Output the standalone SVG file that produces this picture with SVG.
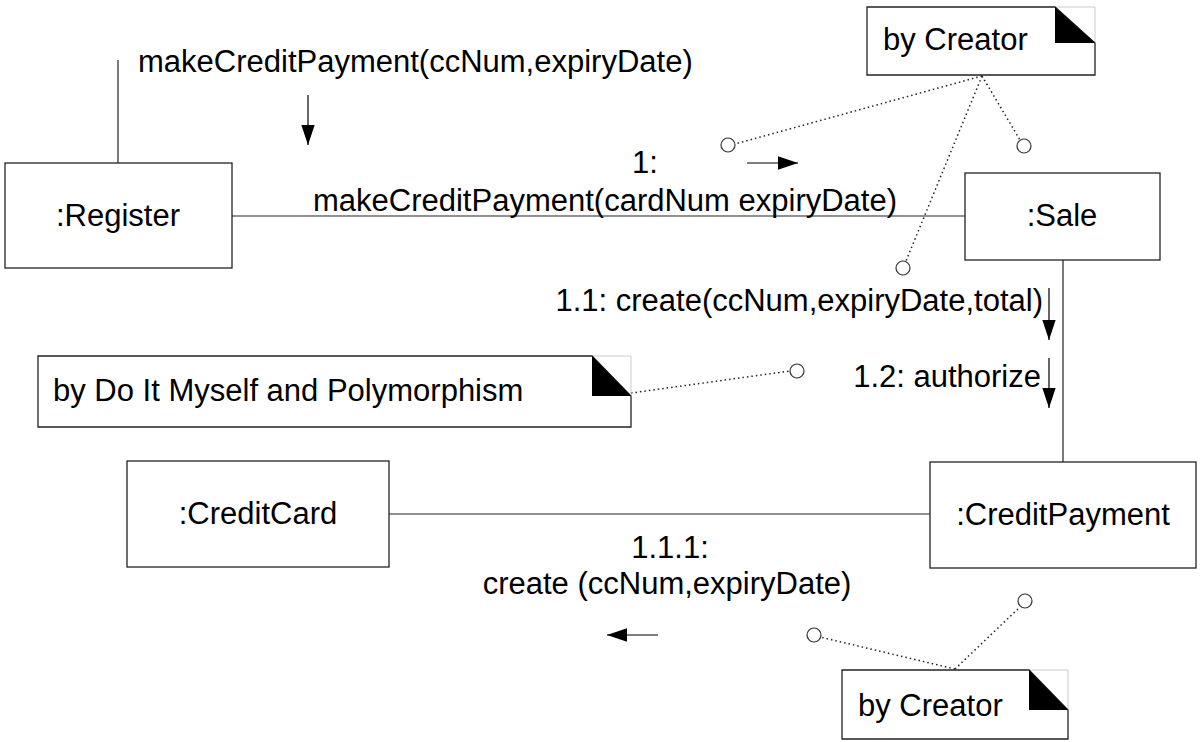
<svg xmlns="http://www.w3.org/2000/svg" width="1200" height="742" viewBox="0 0 1200 742">
<style>
text{font-family:"Liberation Sans",Arial,sans-serif;font-size:31px;fill:#000}
.box{fill:#fff;stroke:#222;stroke-width:1.3}
.ln{fill:none;stroke:#222;stroke-width:1.2}
.dot{fill:none;stroke:#222;stroke-width:1.5;stroke-dasharray:1.5 3}
.pin{fill:#fff;stroke:#333;stroke-width:1.2}
.fold{fill:#000}
.faint{fill:none;stroke:#ccc;stroke-width:1}
.arr{fill:none;stroke:#000;stroke-width:1.2;marker-end:url(#ah)}
.m{text-anchor:middle}
.e{text-anchor:end}
</style>
<defs>
<marker id="ah" markerUnits="userSpaceOnUse" markerWidth="20" markerHeight="14" viewBox="0 0 18 12" refX="18" refY="6" orient="auto">
<path d="M0,0 L18,6 L0,12 Z" fill="#000"/>
</marker>
</defs>
<g id="connectors">
<line class="ln" x1="118" y1="60" x2="118" y2="163"/>
<line class="ln" x1="232" y1="216" x2="965" y2="216"/>
<line class="ln" x1="1063" y1="260" x2="1063" y2="462"/>
<line class="ln" x1="389" y1="514" x2="930" y2="514"/>
<line class="arr" x1="308" y1="95" x2="308" y2="145"/>
<line class="arr" x1="747" y1="163" x2="798" y2="163"/>
<line class="arr" x1="1049" y1="288" x2="1049" y2="340"/>
<line class="arr" x1="1049" y1="358" x2="1049" y2="408"/>
<line class="arr" x1="658" y1="635" x2="607" y2="635"/>
<line class="dot" x1="982" y1="76" x2="735" y2="144"/>
<line class="dot" x1="982" y1="76" x2="906" y2="261"/>
<line class="dot" x1="982" y1="76" x2="1020" y2="140"/>
<line class="dot" x1="631" y1="393" x2="790" y2="371"/>
<line class="dot" x1="955" y1="669" x2="820" y2="637"/>
<line class="dot" x1="955" y1="669" x2="1020" y2="607"/>
<circle class="pin" cx="728" cy="145" r="7"/>
<circle class="pin" cx="1024" cy="146" r="7"/>
<circle class="pin" cx="903" cy="268" r="7"/>
<circle class="pin" cx="797" cy="371" r="7"/>
<circle class="pin" cx="814" cy="635" r="7"/>
<circle class="pin" cx="1025" cy="601" r="7"/>
</g>
<g id="msg-labels">
<text x="138" y="72">makeCreditPayment(ccNum,expiryDate)</text>
<text class="m" x="645" y="173">1:</text>
<text class="m" x="605" y="211">makeCreditPayment(cardNum expiryDate)</text>
<text class="e" x="1043" y="311">1.1: create(ccNum,expiryDate,total)</text>
<text class="e" x="1041" y="387">1.2: authorize</text>
<text class="m" x="670" y="558">1.1.1:</text>
<text class="m" x="667" y="594">create (ccNum,expiryDate)</text>
</g>
<g id="register">
<rect class="box" x="5" y="163" width="227" height="105"/>
<text class="m" x="118" y="226">:Register</text>
</g>
<g id="sale">
<rect class="box" x="965" y="173" width="195" height="87"/>
<text class="m" x="1062" y="226">:Sale</text>
</g>
<g id="creditpayment">
<rect class="box" x="930" y="462" width="266" height="106"/>
<text class="m" x="1063" y="525">:CreditPayment</text>
</g>
<g id="creditcard">
<rect class="box" x="127" y="461" width="262" height="106"/>
<text class="m" x="258" y="524">:CreditCard</text>
</g>
<g id="note-creator-top">
<polyline class="faint" points="1055,7 1095,7 1095,43"/>
<path class="box" d="M867,7 H1055 L1095,43 V75 H867 Z"/>
<path class="fold" d="M1055,7 V43 H1095 Z"/>
<text x="883" y="50">by Creator</text>
</g>
<g id="note-doitmyself">
<polyline class="faint" points="592,356 631,356 631,396"/>
<path class="box" d="M38,356 H592 L631,396 V427 H38 Z"/>
<path class="fold" d="M592,356 V396 H631 Z"/>
<text x="53" y="401">by Do It Myself and Polymorphism</text>
</g>
<g id="note-creator-bottom">
<polyline class="faint" points="1029,670 1068,670 1068,710"/>
<path class="box" d="M842,670 H1029 L1068,710 V739 H842 Z"/>
<path class="fold" d="M1029,670 V710 H1068 Z"/>
<text x="858" y="716">by Creator</text>
</g>
</svg>
